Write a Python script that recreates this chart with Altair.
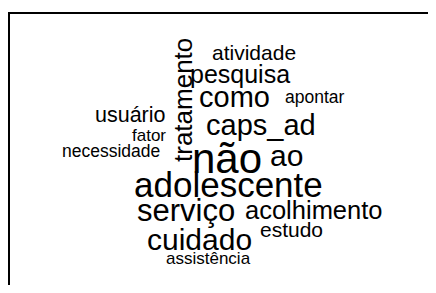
import altair as alt
import pandas as pd

# Word cloud data
words = ["não", "adolescente", "serviço", "cuidado", "ao", "como", "caps_ad",
         "tratamento", "acolhimento", "pesquisa", "atividade", "usuário",
         "estudo", "apontar", "fator", "necessidade", "assistência"]
freq = [60, 46, 38, 36, 36, 34, 34, 28, 27, 26, 18, 19, 18, 11, 10, 11, 10]
# layout of the cloud (page pixels: left edge / baseline)
pos_x = [192, 134, 137, 147, 270, 199, 206, 192, 245, 190, 212, 95, 260, 285, 132, 62, 166]
pos_y = [173, 197, 221, 250, 166, 107, 135, 162, 219, 83, 60, 122, 237, 103, 141, 157, 264]
rot = [0, 0, 0, 0, 0, 0, 0, 270, 0, 0, 0, 0, 0, 0, 0, 0, 0]

W, H = 420, 277
df = pd.DataFrame({
    "word": words,
    "freq": freq,
    "x": [v - 8 for v in pos_x],
    "y": [v - 8 for v in pos_y],
    "rot": rot,
})

xs = alt.Scale(domain=[0, W], nice=False, zero=False)
ys = alt.Scale(domain=[0, H], nice=False, zero=False, reverse=True)

text = alt.Chart(df).mark_text(
    align="left", baseline="alphabetic", font="Liberation Sans", color="black"
).encode(
    x=alt.X("x:Q", scale=xs, axis=None),
    y=alt.Y("y:Q", scale=ys, axis=None),
    size=alt.Size("freq:Q", scale=alt.Scale(domain=[10, 60], range=[17, 42], zero=False), legend=None),
    angle=alt.Angle("rot:Q", scale=None),
    text="word:N",
)

left_line = alt.Chart(df).mark_rule(color="black", strokeWidth=2).encode(
    x=alt.value(1), y=alt.value(5), y2=alt.value(H)
)
top_line = alt.Chart(df).mark_rule(color="black", strokeWidth=2).encode(
    y=alt.value(5), x=alt.value(0), x2=alt.value(W)
)

chart = alt.layer(left_line, top_line, text).properties(
    width=W, height=H, padding=0, autosize=alt.AutoSizeParams(type="none")
).configure_view(stroke=None)

chart.save("out.html", embed_options={"renderer": "svg", "actions": False})
